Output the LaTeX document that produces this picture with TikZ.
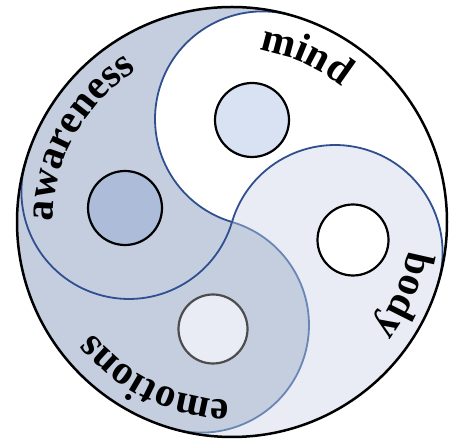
\documentclass[tikz,border=0pt]{standalone}
\usepackage{fontspec}
\setmainfont{Liberation Serif}
\usetikzlibrary{decorations.text}
\definecolor{awar}{RGB}{197,206,223}
\definecolor{bodyc}{RGB}{233,236,245}
\definecolor{mindc}{RGB}{217,226,242}
\definecolor{awarc}{RGB}{173,188,217}
\definecolor{emoc}{RGB}{233,236,245}
\definecolor{blueline}{RGB}{47,79,143}
\definecolor{lightline}{RGB}{106,134,181}
\newcommand\wordfont{\fontsize{41}{41}\selectfont\bfseries}
\tikzset{
  dot/.style={circle, draw=black, line width=2.2pt, minimum size=#1, inner sep=0pt},
  curveA/.style={draw=blueline, line width=1.8pt},
  curveL/.style={draw=lightline, line width=1.8pt},
  word/.style={decorate, decoration={text along path, text={|\wordfont|#1}, text align=center}}
}
\begin{document}
\begin{tikzpicture}[x=1pt,y=1pt]
\useasboundingbox (0,0) rectangle (455,441);
\def\R{215pt}
\def\r{107.5pt}
\coordinate (C) at (232,219);
% base fill (body)
\fill[bodyc] (C) circle[radius=\R];
% dark half (awareness + emotions)
\fill[awar] (C) ++(73.5:\R) arc[start angle=73.5, end angle=253.5, radius=\R]
  arc[start angle=253.5, end angle=433.5, radius=\r]
  arc[start angle=253.5, end angle=73.5, radius=\r] -- cycle;
% mind region
\fill[white] (C) arc[start angle=163.5, end angle=-16.5, radius=\r]
  arc[start angle=-16.5, end angle=73.5, radius=\R]
  arc[start angle=73.5, end angle=253.5, radius=\r] -- cycle;
% dividing curves
\path[curveL] (C) arc[start angle=73.5, end angle=-106.5, radius=\r];
\path[curveA] (C) arc[start angle=253.5, end angle=73.5, radius=\r];
\path[curveA] (C) arc[start angle=343.5, end angle=163.5, radius=\r];
\path[curveA] (C) arc[start angle=163.5, end angle=-16.5, radius=\r];
% small circles
\node[dot=74pt, fill=mindc] (mdot) at (252,321) {};
\node[dot=74pt, fill=awarc] (adot) at (125,233) {};
\node[dot=71pt, fill=white] (bdot) at (353,201) {};
\node[dot=69pt, fill=emoc, draw=black!70] (edot) at (213,112) {};
% outer circle
\node[circle, draw=black, line width=2.5pt, minimum size=430pt, inner sep=0pt] (outer) at (C) {};
% words
\path[word=awareness] (C) ++(195:179pt) arc[start angle=195, end angle=107, radius=179pt];
\path[word=mind] (C) ++(100:174pt) arc[start angle=100, end angle=32, radius=174pt];
\path[word=body] (C) ++(10:178pt) arc[start angle=10, end angle=-56, radius=178pt];
\path[word=emotions] (C) ++(290:178pt) arc[start angle=290, end angle=198, radius=178pt];
\end{tikzpicture}
\end{document}
